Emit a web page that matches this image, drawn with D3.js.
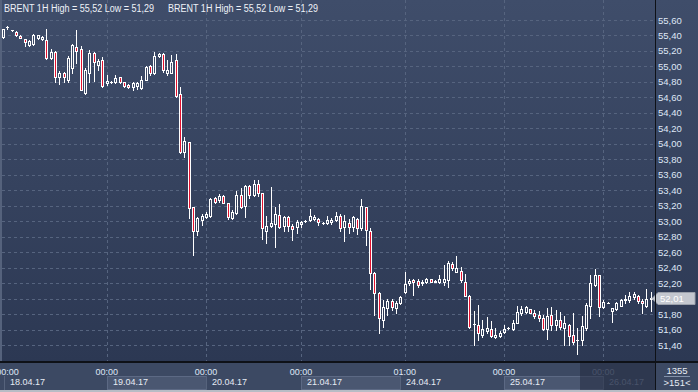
<!DOCTYPE html>
<html><head><meta charset="utf-8">
<script src="https://cdn.jsdelivr.net/npm/d3@7"></script>
<style>html,body{margin:0;padding:0;background:#3a4863;overflow:hidden}svg{display:block}</style>
</head><body><svg id="c" width="698" height="392"></svg>
<script>
// ---- data (BRENT 1H candles, 151 bars) ----
const opens = [55.38,55.51,55.47,55.44,55.39,55.35,55.28,55.29,55.37,55.35,
55.34,55.11,55.19,54.87,54.92,54.83,54.98,55.25,55.23,54.66,
54.91,55.17,55.02,55.08,54.79,54.80,54.80,54.86,54.80,54.76,
54.74,54.75,54.72,54.82,55.01,54.91,55.13,55.16,54.92,54.92,
55.08,54.64,53.89,54.02,53.18,52.88,53.02,53.06,53.07,53.30,
53.27,53.32,53.23,53.04,53.11,53.34,53.20,53.46,53.34,53.48,
53.36,52.88,52.94,52.97,53.08,52.94,53.05,52.94,52.92,52.97,
53.00,53.02,53.03,53.03,52.98,52.98,52.99,53.02,53.07,52.92,
52.98,52.93,53.03,52.91,53.18,52.87,52.33,52.07,51.72,51.88,
51.97,51.88,51.95,52.09,52.20,52.24,52.23,52.20,52.21,52.25,
52.23,52.21,52.22,52.24,52.45,52.35,52.36,52.21,52.03,51.67,
51.66,51.53,51.58,51.61,51.50,51.52,51.57,51.62,51.61,51.69,
51.81,51.83,51.86,51.82,51.79,51.75,51.61,51.79,51.66,51.72,
51.62,51.66,51.53,51.47,51.46,51.62,51.90,52.18,52.31,51.89,
51.95,51.84,51.86,51.91,51.98,51.98,52.02,52.03,51.97,51.90,52.00];
const highs = [55.48,55.52,55.475,55.46,55.40,55.36,55.34,55.42,55.41,55.39,
55.48,55.23,55.20,54.94,54.93,55.13,55.29,55.47,55.26,54.98,
55.21,55.19,55.10,55.12,54.89,54.81,54.89,54.87,54.80,54.77,
54.80,54.80,54.88,55.00,55.02,55.19,55.17,55.17,55.08,55.15,
55.16,54.74,54.09,54.02,53.19,53.06,53.10,53.12,53.30,53.31,
53.35,53.34,53.24,53.14,53.39,53.43,53.47,53.47,53.53,53.53,
53.37,53.07,53.44,53.19,53.22,53.07,53.07,52.97,53.01,53.00,
53.01,53.16,53.08,53.04,52.99,53.07,53.04,53.12,53.10,53.08,
53.03,53.07,53.04,53.29,53.19,52.91,52.35,52.08,51.98,52.00,
51.99,51.97,52.03,52.35,52.25,52.25,52.25,52.24,52.27,52.26,
52.24,52.30,52.43,52.49,52.48,52.55,52.41,52.32,52.05,51.84,
51.92,51.72,51.76,51.71,51.62,51.58,51.66,51.63,51.72,51.90,
51.90,51.90,51.87,51.85,51.84,51.79,51.88,51.89,51.85,51.83,
51.77,51.67,51.81,51.62,51.77,51.94,52.31,52.38,52.31,51.98,
51.96,51.88,51.96,51.99,52.05,52.08,52.08,52.05,52.00,52.13,52.08];
const lows = [55.37,55.49,55.46,55.39,55.37,55.26,55.27,55.28,55.36,55.34,
55.10,55.09,54.80,54.77,54.80,54.80,54.91,55.04,54.69,54.65,
54.80,54.81,54.96,54.74,54.76,54.78,54.78,54.79,54.73,54.72,
54.70,54.71,54.71,54.82,54.89,54.90,55.12,54.93,54.89,54.91,
54.60,53.88,53.83,53.04,52.56,52.82,52.95,53.04,53.06,53.23,
53.25,53.23,53.03,53.03,53.09,53.17,53.06,53.30,53.32,53.32,
52.77,52.72,52.93,52.67,52.91,52.88,52.88,52.76,52.85,52.93,
52.99,53.00,53.02,52.95,52.97,52.96,52.97,53.00,52.88,52.75,
52.85,52.88,52.84,52.89,52.69,52.13,51.79,51.56,51.64,51.79,
51.85,51.81,51.93,52.07,52.18,52.05,52.15,52.18,52.20,52.21,
52.21,52.20,52.18,52.15,52.37,52.34,52.22,52.03,51.62,51.40,
51.47,51.50,51.56,51.50,51.49,51.51,51.56,51.61,51.59,51.68,
51.79,51.82,51.81,51.75,51.71,51.59,51.48,51.60,51.60,51.61,
51.40,51.40,51.42,51.29,51.40,51.60,51.75,52.16,51.78,51.88,
51.94,51.70,51.85,51.90,51.94,51.96,52.00,51.94,51.81,51.89,51.84];
const closes = [55.48,55.51,55.47,55.40,55.37,55.31,55.33,55.41,55.41,55.38,
55.11,55.19,54.87,54.91,54.86,55.11,55.28,55.20,54.70,54.95,
55.17,55.06,55.07,54.75,54.81,54.80,54.85,54.80,54.75,54.73,
54.79,54.79,54.82,54.99,54.91,55.13,55.16,54.95,54.95,55.06,
54.62,53.90,54.04,53.17,52.87,53.04,53.07,53.09,53.29,53.25,
53.33,53.24,53.05,53.12,53.34,53.18,53.45,53.34,53.48,53.36,
52.91,52.94,52.98,53.09,52.93,53.05,52.94,52.90,52.99,52.99,
53.00,53.07,53.06,52.99,52.98,53.02,53.02,53.07,52.91,53.00,
52.93,53.05,52.91,53.20,52.89,52.33,52.07,51.75,51.89,51.97,
51.89,51.95,52.02,52.19,52.23,52.21,52.18,52.22,52.25,52.22,
52.22,52.25,52.26,52.46,52.39,52.39,52.24,52.04,51.64,51.67,
51.55,51.61,51.62,51.52,51.53,51.56,51.61,51.62,51.69,51.83,
51.86,51.89,51.82,51.77,51.75,51.61,51.78,51.66,51.72,51.63,
51.68,51.52,51.44,51.47,51.65,51.92,52.20,52.31,51.89,51.96,
51.95,51.88,51.94,51.98,52.00,52.03,52.06,51.97,51.94,51.99,52.01];
const yTickValues = [51.4,51.6,51.8,52.0,52.2,52.4,52.6,52.8,53.0,53.2,53.4,53.6,53.8,54.0,54.2,54.4,54.6,54.8,55.0,55.2,55.4,55.6];
const timeTickIdx = [1,24,47,69,93,116,139];
const timeTickLabels = ["00:00","00:00","00:00","00:00","01:00","00:00","00:00"];
const dateStartIdx = [0,24,47,69,92,116,139];
const dateLabels = ["18.04.17","19.04.17","20.04.17","21.04.17","24.04.17","25.04.17","26.04.17"];
const titleText = "BRENT 1H High = 55,52 Low = 51,29";
const lastPrice = 52.01;
const totalBarsLabel = "1355";
const visibleBarsLabel = ">151<";

// ---- layout ----
const W = 698, H = 392;
const plotL = 2, plotR = 655, plotB = 362;
const svg = d3.select("#c");
const fmt = v => d3.format(".2f")(v).replace(".", ",");

const x = d3.scaleLinear().domain([0, 150]).range([3.07, 650.8]);
const y = d3.scaleLinear().domain([51.4, 55.6]).range([345.1, 20]);

const defs = svg.append("defs");
const g1 = defs.append("linearGradient").attr("id","bg").attr("x1",0).attr("y1",0).attr("x2",0).attr("y2",1);
g1.append("stop").attr("offset","0%").attr("stop-color","#3f4d6a");
g1.append("stop").attr("offset","100%").attr("stop-color","#2c3853");
defs.append("clipPath").attr("id","plotclip").append("rect")
  .attr("x", plotL).attr("y", 0).attr("width", plotR - plotL).attr("height", plotB);

// backgrounds
svg.append("rect").attr("x",0).attr("y",0).attr("width",W).attr("height",H).attr("fill","#3b4862");
svg.append("rect").attr("x",0).attr("y",0).attr("width",plotR).attr("height",plotB).attr("fill","url(#bg)");
svg.append("rect").attr("x",plotR).attr("y",0).attr("width",W-plotR).attr("height",plotB).attr("fill","url(#bg)");
svg.append("rect").attr("x",0).attr("y",0).attr("width",2).attr("height",plotB).attr("fill","#55627c");

// grid
const grid = svg.append("g").attr("stroke","#56647f").attr("stroke-dasharray","3,3").attr("stroke-width",1);
yTickValues.forEach(v => {
  const yy = Math.round(y(v)) + 0.5;
  grid.append("line").attr("x1",plotL).attr("x2",plotR).attr("y1",yy).attr("y2",yy);
});
timeTickIdx.slice(1).forEach(i => {
  const xx = Math.round(x(i)) + 0.5;
  grid.append("line").attr("x1",xx).attr("x2",xx).attr("y1",0).attr("y2",plotB);
});

// candles
const candles = svg.append("g").attr("clip-path","url(#plotclip)");
opens.forEach((o, i) => {
  const c = closes[i], h = highs[i], l = lows[i];
  const cx = Math.round(x(i)) + 0.5;
  const yTop = Math.round(y(Math.max(o, c))) + 0.5;
  const yBot = Math.round(y(Math.min(o, c))) + 0.5;
  const yH = Math.round(y(h)) + 0.5;
  const yL = Math.round(y(l)) + 0.5;
  const g = candles.append("g").attr("stroke","#ffffff").attr("stroke-width",1);
  if (yH < yTop) g.append("line").attr("x1",cx).attr("x2",cx).attr("y1",yH - 0.5).attr("y2",yTop);
  if (yL > yBot) g.append("line").attr("x1",cx).attr("x2",cx).attr("y1",yBot).attr("y2",yL + 0.5);
  if (yBot - yTop < 1) {
    g.append("line").attr("x1",cx - 1.5).attr("x2",cx + 1.5).attr("y1",yTop).attr("y2",yTop);
  } else {
    g.append("rect").attr("x",cx - 1).attr("y",yTop).attr("width",2).attr("height",yBot - yTop)
      .attr("fill", c < o ? "#e3122f" : "none");
  }
});

// separators
svg.append("rect").attr("x",plotR).attr("y",0).attr("width",1).attr("height",H).attr("fill","#0e1117");
svg.append("rect").attr("x",0).attr("y",plotB - 1).attr("width",W).attr("height",2).attr("fill","#0e1117");

// right axis labels (the one under the last-price tag is hidden)
const ly = Math.round(y(lastPrice));
const yAxis = svg.append("g").attr("font-family","'Liberation Sans', Arial, sans-serif").attr("font-size","9.5px").attr("fill","#dfe7f6");
yTickValues.forEach(v => {
  if (Math.abs(y(v) - ly) < 10) return;
  yAxis.append("text").attr("x",658).attr("y",y(v) + 3.5).text(fmt(v));
});

// last price tag
svg.append("path")
  .attr("d", `M652,${ly+0.5} L658,${ly-5.5} L695,${ly-5.5} L695,${ly+6.5} L658,${ly+6.5} Z`)
  .attr("fill","#c3c7cf").attr("stroke","#9aa0ab").attr("stroke-width",1);
svg.append("text").attr("x",660).attr("y",ly + 4).attr("font-family","'Liberation Sans', Arial, sans-serif")
  .attr("font-size","9.5px").attr("fill","#ffffff").text(fmt(lastPrice));

// bottom axis
const axisY = plotB + 1;
svg.append("rect").attr("x",0).attr("y",axisY).attr("width",plotR).attr("height",H - axisY).attr("fill","#3c4963");
const bandStarts = dateStartIdx.map((i, k) => k === 0 ? 4 : Math.round(x(i)));
const bandG = svg.append("g");
bandStarts.forEach((bx, k) => {
  const nx = k < bandStarts.length - 1 ? bandStarts[k + 1] : plotR;
  if (k % 2 === 1) {
    bandG.append("rect").attr("x",bx + 0.5).attr("y",376.5).attr("width",nx - bx).attr("height",13)
      .attr("fill","#4a5771").attr("stroke","#5c6984");
  } else {
    bandG.append("line").attr("x1",bx + 0.5).attr("x2",bx + 0.5).attr("y1",376).attr("y2",390).attr("stroke","#56637c");
  }
});
const bx = svg.append("g").attr("font-family","'Liberation Sans', Arial, sans-serif").attr("font-size","9px");
timeTickIdx.forEach((i, k) => {
  bx.append("text").attr("x",x(i)).attr("y",374.5).attr("text-anchor","middle")
    .attr("fill", k === timeTickIdx.length - 1 ? "#6d7a93" : "#dfe7f6").text(timeTickLabels[k]);
});
dateLabels.forEach((d, k) => {
  bx.append("text").attr("x",bandStarts[k] + 6).attr("y",385)
    .attr("fill", k === dateLabels.length - 1 ? "#6d7a93" : "#e6ebf4").text(d);
});
// faded region at the right of the time axis
svg.append("rect").attr("x",580).attr("y",axisY).attr("width",plotR - 580).attr("height",H - axisY - 2)
  .attr("fill","#1c2438").attr("opacity",0.45);

// right-bottom box
svg.append("rect").attr("x",plotR + 1).attr("y",axisY).attr("width",W - plotR - 1).attr("height",H - axisY).attr("fill","#3c4963");
svg.append("line").attr("x1",664).attr("x2",690).attr("y1",376.5).attr("y2",376.5).attr("stroke","#8392aa");
svg.append("text").attr("x",677).attr("y",374).attr("text-anchor","middle").attr("font-family","'Liberation Sans', Arial, sans-serif")
  .attr("font-size","9.5px").attr("fill","#e6ebf4").text(totalBarsLabel);
svg.append("text").attr("x",677).attr("y",386).attr("text-anchor","middle").attr("font-family","'Liberation Sans', Arial, sans-serif")
  .attr("font-size","9.5px").attr("fill","#e6ebf4").text(visibleBarsLabel);
svg.append("rect").attr("x",plotR).attr("y",0).attr("width",1).attr("height",H).attr("fill","#0e1117");

// bottom light border
svg.append("rect").attr("x",0).attr("y",390).attr("width",W).attr("height",2).attr("fill","#b7bcc5");

// title (horizontally condensed)
[4, 168].forEach(tx => {
  svg.append("text")
    .attr("transform", `translate(${tx},12) scale(0.82,1)`)
    .attr("font-family","'Liberation Sans', Arial, sans-serif")
    .attr("font-size","11px").attr("fill","#eef2f8").text(titleText);
});
</script>
</body></html>
